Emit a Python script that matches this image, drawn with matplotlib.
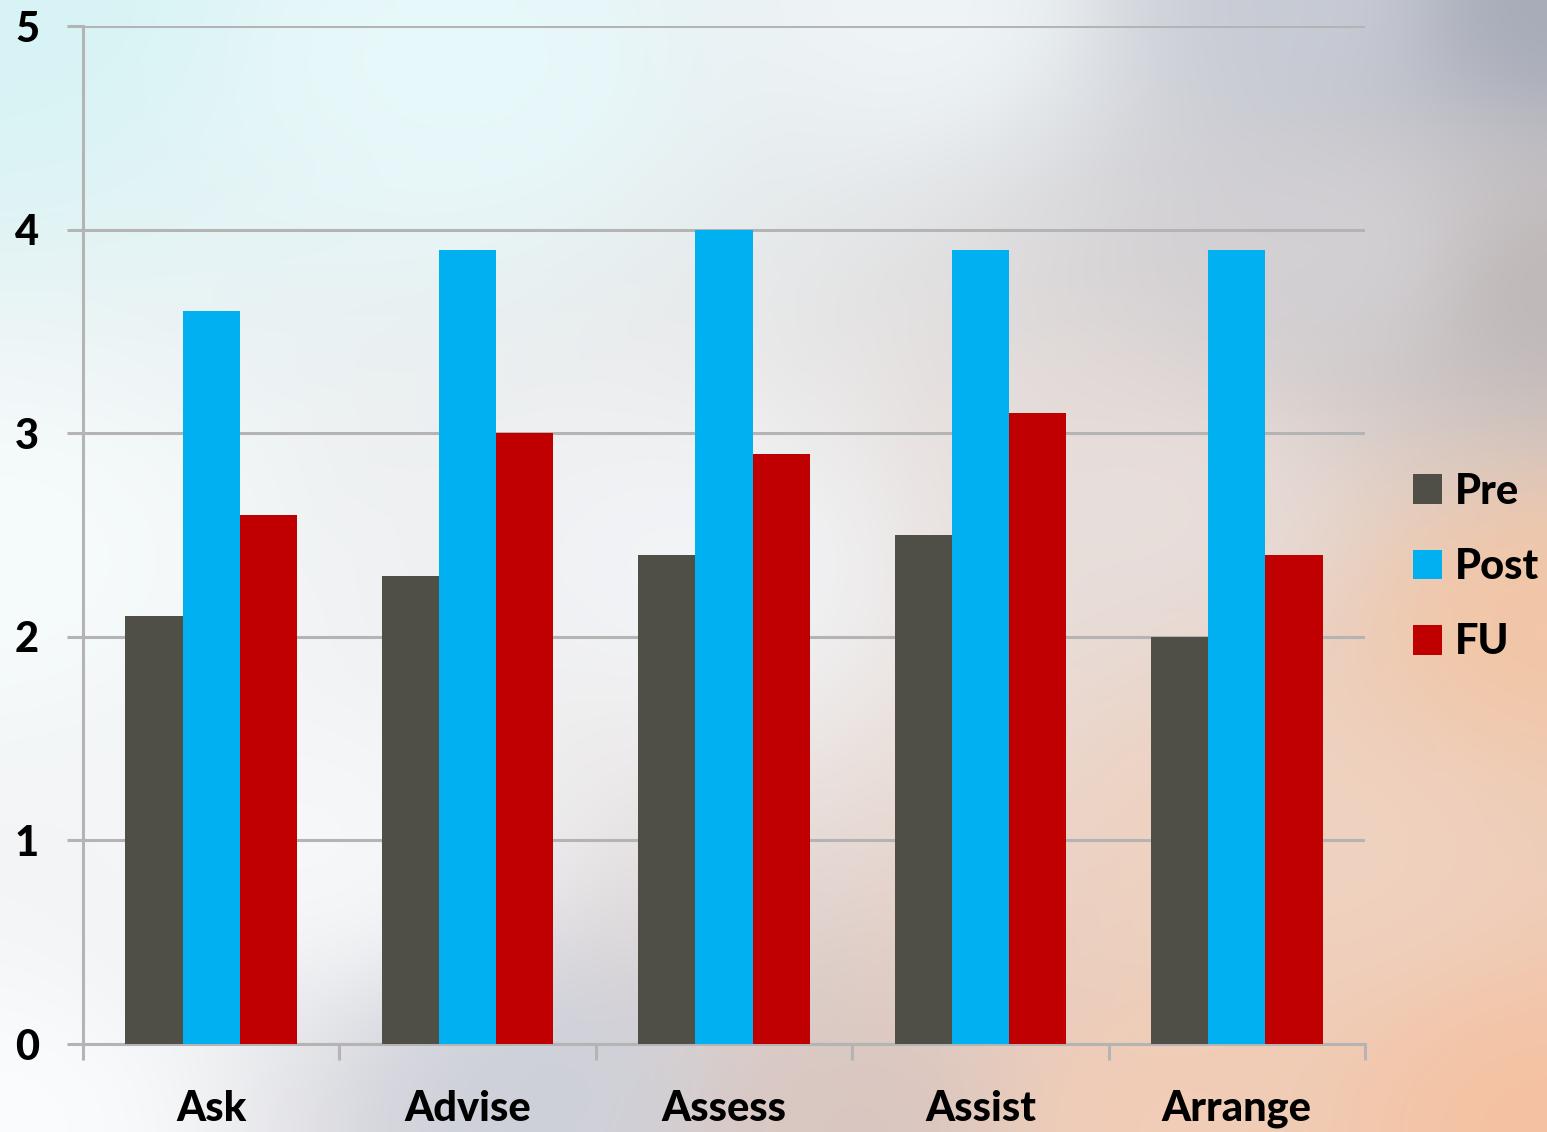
import numpy as np
import matplotlib
matplotlib.use("Agg")
import matplotlib.pyplot as plt
from matplotlib.colors import to_rgb
from matplotlib.patches import Patch

# data
categories = ["Ask", "Advise", "Assess", "Assist", "Arrange"]
pre = [2.1, 2.3, 2.4, 2.5, 2.0]
post = [3.6, 3.9, 4.0, 3.9, 3.9]
fu = [2.6, 3.0, 2.9, 3.1, 2.4]
series_names = ["Pre", "Post", "FU"]
series_colors = ["#4f4f47", "#00b0f0", "#c00000"]

W, H = 1547, 1132
DPI = 100
grid_col = "#b4b4b4"
font = "Lato"
weight = "black"

fig = plt.figure(figsize=(W / DPI, H / DPI), dpi=DPI)

# soft background wash (slide background)
pts = [
    (0.00, 0.00, "#d8f4f6"), (0.30, 0.05, "#e8f9fb"), (0.60, 0.00, "#f0f6f8"),
    (0.85, 0.00, "#c8ccd6"), (1.00, 0.00, "#a4a9b6"), (1.00, 0.25, "#bdb6b6"),
    (1.00, 0.55, "#f3c6a6"), (1.00, 1.00, "#f5c2a2"), (0.75, 1.00, "#f2cdb6"),
    (0.55, 1.00, "#d9c6c0"), (0.35, 0.97, "#cdd0da"), (0.00, 1.00, "#fafcfd"),
    (0.00, 0.50, "#f6fbfc"), (0.45, 0.50, "#f2f4f7"), (0.75, 0.45, "#e8dedb"),
    (0.20, 0.75, "#f6f8fa"), (0.85, 0.75, "#f0d2c0"), (0.88, 0.22, "#d4d2d6"),
]
gy, gx = np.mgrid[0:1:120j, 0:1:160j]
acc = np.zeros(gx.shape + (3,))
wsum = np.zeros(gx.shape)
for px, py, c in pts:
    d2 = (gx - px) ** 2 + (gy - py) ** 2
    w = 1.0 / (d2 + 0.004) ** 1.5
    acc += w[..., None] * np.array(to_rgb(c))
    wsum += w
bg = acc / wsum[..., None]
bgax = fig.add_axes([0, 0, 1, 1], zorder=-1)
bgax.imshow(bg, aspect="auto", interpolation="bilinear", extent=[0, 1, 0, 1])
bgax.axis("off")

ax = fig.add_axes([83 / W, (H - 1044) / H, (1365 - 83) / W, (1044 - 26) / H])
ax.set_facecolor("none")

x = np.arange(len(categories))
bw = 0.223
for i, (vals, col) in enumerate(zip([pre, post, fu], series_colors)):
    ax.bar(x + (i - 1) * bw, vals, width=bw, color=col, zorder=3)

ax.set_xlim(-0.5, len(categories) - 0.5)
ax.set_ylim(0, 5)
ax.set_yticks(range(6))
ax.yaxis.grid(True, color=grid_col, linewidth=2.2, zorder=0)
ax.set_axisbelow(True)

for s in ["top", "right"]:
    ax.spines[s].set_visible(False)
for s in ["left", "bottom"]:
    ax.spines[s].set_color(grid_col)
    ax.spines[s].set_linewidth(2.2)

ax.tick_params(axis="y", direction="out", length=11.5, width=2.2, color=grid_col, pad=20)
ax.set_xticks(x)
ax.set_xticklabels(categories)
ax.tick_params(axis="x", which="major", length=0, pad=33)
ax.set_xticks(np.arange(-0.5, len(categories)), minor=True)
ax.tick_params(axis="x", which="minor", direction="out", length=11.5, width=2.2, color=grid_col)

for lab in ax.get_xticklabels() + ax.get_yticklabels():
    lab.set_fontfamily(font)
    lab.set_fontweight(weight)
    lab.set_fontsize(30)

handles = [Patch(facecolor=c) for c in series_colors]
fig.legend(handles, series_names, loc="center left", bbox_to_anchor=(1413 / W, 1 - 567 / H),
           frameon=False, handlelength=0.7, handleheight=0.7, handletextpad=0.3,
           labelspacing=0.9, borderpad=0, borderaxespad=0,
           prop={"family": font, "weight": weight, "size": 30})

fig.savefig("out.png", dpi=DPI)
